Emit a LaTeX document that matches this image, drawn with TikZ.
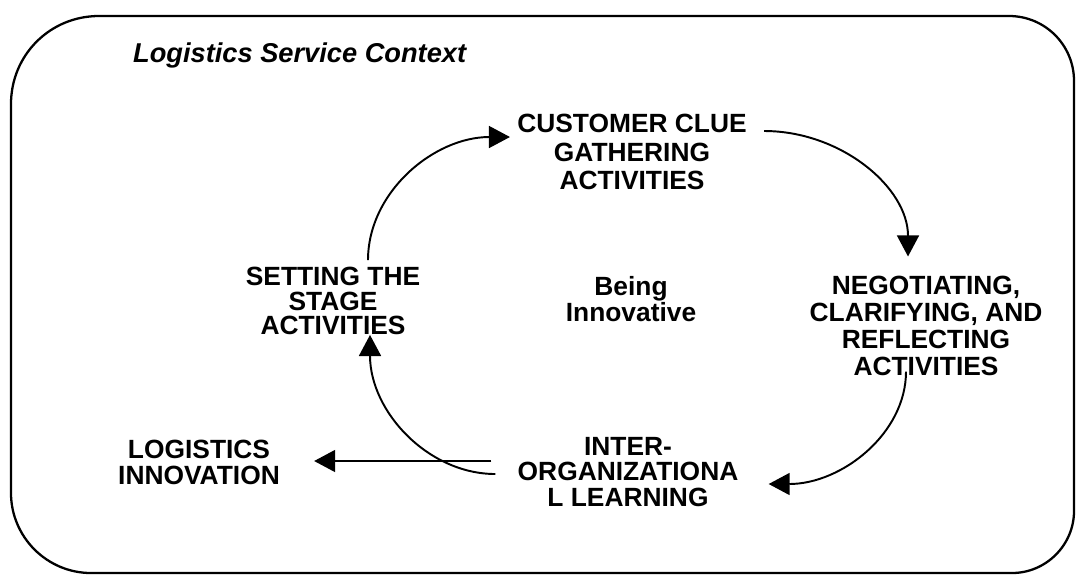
\documentclass[tikz,border=0pt]{standalone}
\usepackage{fontspec}
\setmainfont{Liberation Sans}
\usetikzlibrary{arrows.meta}
\begin{document}
\begin{tikzpicture}[x=0.02cm, y=-0.02cm,
	activity/.style={font=\bfseries\fontsize{15}{#1}\selectfont, align=center, inner sep=0pt},
	activity/.default=15.5pt,
	flow/.style={-{Triangle[length=12pt, width=12.5pt]}, line width=1.1pt},
	frame/.style={line width=1.3pt}]
	\useasboundingbox (0,0) rectangle (1077,576);
	\draw[frame] (11,300) -- (11,493) .. controls (11,537) and (47,573) .. (91,573) -- (1012,573)
		.. controls (1046,573) and (1074,545) .. (1074,511) -- (1074,81)
		.. controls (1074,45) and (1045,16) .. (1009,16) -- (99,16)
		.. controls (50,16) and (11,55) .. (11,104) -- cycle;
	\node[anchor=base west, font=\bfseries\itshape\fontsize{15.5}{18}\selectfont] (ctx) at (127,62) {Logistics Service Context};
	\node[activity=16.4pt] (clue) at (632,152) {CUSTOMER CLUE\\GATHERING\\ACTIVITIES};
	\node[activity=13.8pt] (stage) at (333,301) {SETTING THE\\STAGE\\ACTIVITIES};
	\node[activity=13.8pt] (being) at (631,299) {Being\\Innovative};
	\node[activity=15.5pt] (nego) at (926,326) {NEGOTIATING,\\CLARIFYING, AND\\REFLECTING\\ACTIVITIES};
	\node[activity=14.7pt] (learn) at (628,472) {INTER-\\ORGANIZATIONA\\L LEARNING};
	\node[activity=14.7pt] (logi) at (199,462) {LOGISTICS\\INNOVATION};
	\draw[flow] ([shift={(35,-7)}]stage.north) .. controls +(0,-68) and +(-76,0) .. ([shift={(-7,-15)}]clue.west);
	\draw[flow] ([shift={(17,-21)}]clue.east) .. controls +(77,0) and +(0,-69) .. ([shift={(-18,-19)}]nego.north);
	\draw[flow] ([shift={(-20,-5)}]nego.south) .. controls +(0,62) and +(73,0) .. ([shift={(30,12)}]learn.east);
	\draw[flow] ([shift={(-22,2)}]learn.west) .. controls +(-67,0) and +(0,77) .. ([shift={(37,0)}]stage.south);
	\draw[flow] ([shift={(-26,-11)}]learn.west) -- ([shift={(34,-1)}]logi.east);
\end{tikzpicture}
\end{document}
